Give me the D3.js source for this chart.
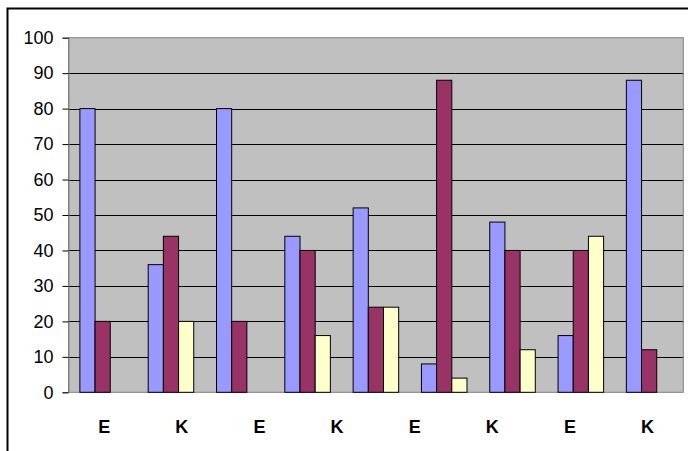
<!DOCTYPE html>
<html>
<head>
<meta charset="utf-8">
<script src="https://cdn.jsdelivr.net/npm/d3@7"></script>
<style>
html,body{margin:0;padding:0;background:#fff;}
svg{display:block;}
</style>
</head>
<body>
<svg id="chart" width="688" height="451"></svg>
<script>
const groups = ["1","2","3","4","5","6","7","8","9"];
const series1 = [80, 36, 80, 44, 52, 8, 48, 16, 88];
const series2 = [20, 44, 20, 40, 24, 88, 40, 40, 12];
const series3 = [null, 20, null, 16, 24, 4, 12, 44, null];
const xLabels = ["E", "K", "E", "K", "E", "K", "E", "K"];
const yTicks = [0, 10, 20, 30, 40, 50, 60, 70, 80, 90, 100];
const colors = ["#9999FF", "#993366", "#FFFFCC"];

(function () {
const svg = d3.select("#chart");
const pL = 68.5, pR = 683.3, pT = 37.7, pB = 392.3;

// outer frame (extends beyond right/bottom edges)
svg.append("rect").attr("x", 7.5).attr("y", 8.5).attr("width", 700).attr("height", 460)
  .attr("fill", "#fff").attr("stroke", "#000").attr("stroke-width", 2);

const x = d3.scaleBand().domain(groups).range([pL, pR]).paddingInner(0).paddingOuter(0);
const y = d3.scaleLinear().domain([0, 100]).range([pB, pT]);
const xl = d3.scalePoint().domain(d3.range(xLabels.length)).range([pL, pR]).padding(0.46);

// plot area
svg.append("rect").attr("x", pL).attr("y", pT).attr("width", pR - pL).attr("height", pB - pT)
  .attr("fill", "#C0C0C0");

// gridlines
svg.append("g").selectAll("line").data(yTicks.filter(d => d > 0 && d < 100)).join("line")
  .attr("x1", pL).attr("x2", pR)
  .attr("y1", d => Math.round(y(d)) + 0.5).attr("y2", d => Math.round(y(d)) + 0.5)
  .attr("stroke", "#000").attr("stroke-width", 1);

// plot border
svg.append("rect").attr("x", pL).attr("y", pT).attr("width", pR - pL).attr("height", pB - pT)
  .attr("fill", "none").attr("stroke", "#808080").attr("stroke-width", 1);

// bars
const allSeries = [series1, series2, series3];
const barW = x.bandwidth() / 4.5;
const offset = (x.bandwidth() - 3 * barW) / 2;
const sub = d3.scaleBand().domain([0, 1, 2]).range([0, 3 * barW]);
allSeries.forEach((s, si) => {
  svg.append("g").selectAll("rect")
    .data(groups.map((g, i) => ({g, v: s[i]})).filter(d => d.v != null))
    .join("rect")
    .attr("x", d => x(d.g) + offset + sub(si))
    .attr("y", d => y(d.v))
    .attr("width", sub.bandwidth())
    .attr("height", d => y(0) - y(d.v))
    .attr("fill", colors[si])
    .attr("stroke", "#000").attr("stroke-width", 1);
});

// y axis
const yAxis = d3.axisLeft(y).tickValues(yTicks).tickSize(6).tickPadding(9).tickFormat(d3.format("d"));
const ya = svg.append("g").attr("transform", `translate(${pL},0)`).call(yAxis);
ya.select(".domain").attr("stroke", "#808080");
ya.selectAll(".tick line").attr("stroke", "#000");
ya.selectAll("text").attr("font-family", "Liberation Sans, Arial, sans-serif").attr("font-size", 18).attr("fill", "#000");

// x labels
svg.append("g").selectAll("text").data(xLabels).join("text")
  .attr("x", (d, i) => xl(i))
  .attr("y", 433)
  .attr("text-anchor", "middle")
  .attr("font-family", "Liberation Sans, Arial, sans-serif")
  .attr("font-weight", "bold")
  .attr("font-size", 18)
  .text(d => d);
})();
</script>
</body>
</html>
